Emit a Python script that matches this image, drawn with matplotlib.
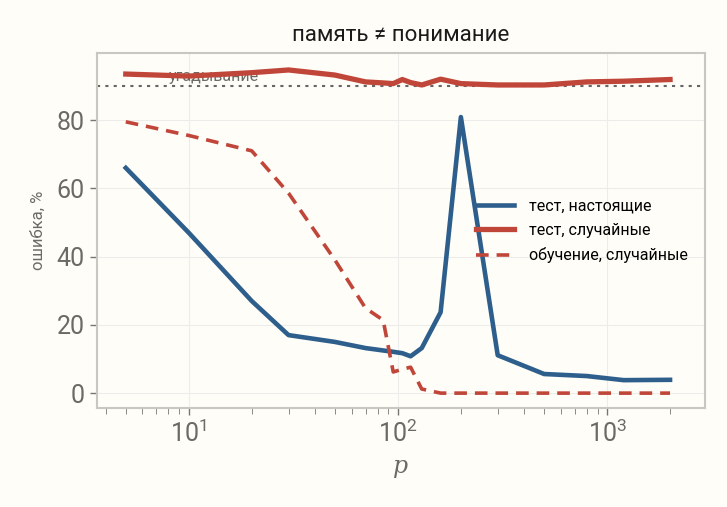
import matplotlib
matplotlib.use("Agg")
import matplotlib.pyplot as plt

# шрифт: узкий, как в оригинале
plt.rcParams['font.family'] = ['Roboto', 'DejaVu Sans']
plt.rcParams['mathtext.fontset'] = 'custom'
plt.rcParams['mathtext.rm'] = 'Roboto'
plt.rcParams['mathtext.it'] = 'Roboto:italic'

# данные
p = [5, 10, 20, 30, 50, 70, 85, 95, 105, 115, 130, 160, 200, 300, 500, 800, 1200, 2000]
test_real = [66, 47, 27, 17, 15, 13.2, 12.5, 12.1, 11.7, 10.8, 13.2, 23.7, 80.9, 11.1, 5.6, 5.0, 3.8, 3.9]
test_rand = [93.5, 92.9, 93.9, 94.7, 93.2, 91.2, 90.9, 90.7, 91.9, 91.0, 90.3, 92.0, 90.7, 90.3, 90.3, 91.2, 91.4, 91.9]
train_rand = [79.5, 75.5, 71, 58.6, 39, 24.9, 21.4, 6.2, 7.0, 7.6, 1.2, 0, 0, 0, 0, 0, 0, 0]
chance = 90

blue = '#2e5f8c'
red = '#c0463a'
bg = '#fffdf8'
gray = '#6b6b66'

fig = plt.figure(figsize=(7.27, 5.07), dpi=100, facecolor=bg)
ax = fig.add_axes([0.133, 0.195, 0.837, 0.70])
ax.set_facecolor(bg)

ax.axhline(chance, color='#666666', ls=(0, (1.5, 2.5)), lw=1.5, zorder=1)
ax.text(8, chance + 0.6, 'угадывание', color=gray, fontsize=11.5, va='bottom', ha='left')

ax.plot(p, test_real, color=blue, lw=3.3, label='тест, настоящие', zorder=3)
ax.plot(p, test_rand, color=red, lw=3.8, label='тест, случайные', zorder=3)
ax.plot(p, train_rand, color=red, lw=2.6, ls=(0, (3.5, 2.2)), label='обучение, случайные', zorder=3)

ax.set_xscale('log')
ax.set_xlim(3.63, 2945)
ax.set_ylim(-4.4, 99.6)
ax.set_yticks([0, 20, 40, 60, 80])

ax.grid(True, color='#ececea', lw=0.8)
ax.set_axisbelow(True)
for s in ax.spines.values():
    s.set_color('#c8c8c0')
    s.set_linewidth(1.5)
ax.tick_params(axis='both', colors='#777770', labelsize=18, labelcolor='#6b6b66', width=1, length=5)
ax.tick_params(axis='x', which='minor', colors='#777770', length=4)

ax.set_title('память ≠ понимание', fontsize=16, color='#1a1a1a', pad=9)
ax.set_ylabel('ошибка, %', fontsize=12, color=gray, labelpad=8)
ax.set_xlabel('p', fontsize=17, color=gray, family='DejaVu Serif', style='italic', labelpad=6)

leg = ax.legend(loc='center left', bbox_to_anchor=(0.6, 0.50), frameon=False,
                fontsize=11.5, handlelength=2.4, labelspacing=0.6, handletextpad=0.9)

fig.savefig('out.png', dpi=100, facecolor=bg)
